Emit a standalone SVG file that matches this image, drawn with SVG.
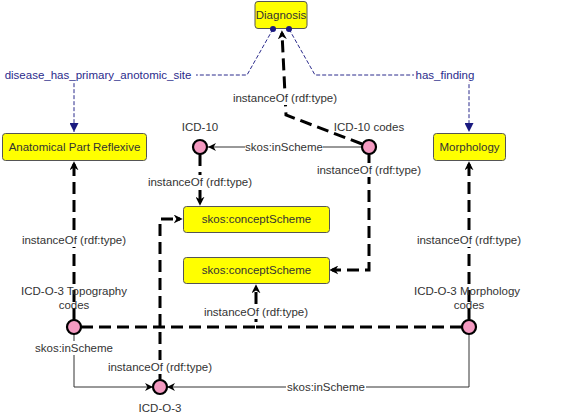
<svg xmlns="http://www.w3.org/2000/svg" width="566" height="414" viewBox="0 0 566 414">
<style>
text{font-family:"Liberation Sans",Arial,sans-serif;font-size:11.5px;fill:#333;text-anchor:middle}
.blue{fill:#2b2b8c}
.box{fill:#ffff00;stroke:#555;stroke-width:1}
.ind{fill:#f49ac1;stroke:#000;stroke-width:2.2}
.thick{fill:none;stroke:#000;stroke-width:3;stroke-dasharray:12 6}
.thin{fill:none;stroke:#333;stroke-width:1}
.bl{fill:none;stroke:#2b2b8c;stroke-width:1;stroke-dasharray:4 2}
.bg{fill:#fff}
.dot{fill:#1a1a80}
</style>
<defs>
<marker id="ak" viewBox="0 0 10 10" refX="7" refY="5" markerWidth="9" markerHeight="9" markerUnits="userSpaceOnUse" orient="auto">
<path d="M0,0 L10,5 L0,10 L3,5 z" fill="#000"/>
</marker>
<marker id="at" viewBox="0 0 10 10" refX="10" refY="5" markerWidth="8" markerHeight="8" markerUnits="userSpaceOnUse" orient="auto">
<path d="M0,0 L10,5 L0,10 L3,5 z" fill="#000"/>
</marker>
<marker id="ab" viewBox="0 0 10 10" refX="10" refY="5" markerWidth="9" markerHeight="9" markerUnits="userSpaceOnUse" orient="auto">
<path d="M0,0 L10,5 L0,10 z" fill="#1a1a80"/>
</marker>
</defs>
<g id="connectors">
<path class="bl" d="M273,29 L247,75 L74,75 L74,132" marker-end="url(#ab)"/>
<path class="bl" d="M289,29 L315,75 L469,75 L469,132" marker-end="url(#ab)"/>
<path class="thick" d="M362,144 L286,115 L282,33" marker-end="url(#ak)"/>
<path class="thin" d="M362,147 L208,147" marker-end="url(#at)"/>
<path class="thick" d="M200,154 L200,203" marker-end="url(#ak)"/>
<path class="thick" d="M369,154 L369,270 L332,270" marker-end="url(#ak)"/>
<path class="thick" d="M74,320 L74,164" marker-end="url(#ak)"/>
<path class="thick" d="M469,320 L469,164" marker-end="url(#ak)"/>
<path class="thick" d="M81,327 L256,327 L256,287" marker-end="url(#ak)"/>
<path class="thick" d="M462,327 L256,327"/>
<path class="thick" d="M160,380 L160,219 L180,219" marker-end="url(#ak)"/>
<path class="thin" d="M74,334 L74,387 L153,387" marker-end="url(#at)"/>
<path class="thin" d="M469,334 L469,387 L167,387" marker-end="url(#at)"/>
</g>
<g id="edge-labels">
<rect class="bg" x="2" y="68" width="194" height="14"/>
<text class="blue" x="98" y="79">disease_has_primary_anotomic_site</text>
<rect class="bg" x="414" y="68" width="63" height="14"/>
<text class="blue" x="445" y="79">has_finding</text>
<rect class="bg" x="231" y="91" width="108" height="14"/>
<text x="285" y="102">instanceOf (rdf:type)</text>
<rect class="bg" x="245" y="140" width="78" height="14"/>
<text x="284" y="151">skos:inScheme</text>
<rect class="bg" x="146" y="175" width="108" height="14"/>
<text x="200" y="186">instanceOf (rdf:type)</text>
<rect class="bg" x="315" y="163" width="108" height="14"/>
<text x="369" y="174">instanceOf (rdf:type)</text>
<rect class="bg" x="20" y="233" width="108" height="14"/>
<text x="74" y="244">instanceOf (rdf:type)</text>
<rect class="bg" x="415" y="233" width="108" height="14"/>
<text x="469" y="244">instanceOf (rdf:type)</text>
<rect class="bg" x="202" y="305" width="108" height="14"/>
<text x="256" y="316">instanceOf (rdf:type)</text>
<rect class="bg" x="106" y="360" width="108" height="14"/>
<text x="160" y="371">instanceOf (rdf:type)</text>
<rect class="bg" x="35" y="341" width="78" height="14"/>
<text x="74" y="352">skos:inScheme</text>
<rect class="bg" x="286" y="380" width="80" height="14"/>
<text x="326" y="391">skos:inScheme</text>
</g>
<g id="n-diagnosis">
<rect class="box" x="255" y="1.5" width="52" height="27" rx="3"/>
<text x="281" y="19">Diagnosis</text>
</g>
<g id="n-anatomical">
<rect class="box" x="2.5" y="133.5" width="144" height="27" rx="3"/>
<text x="74.5" y="151">Anatomical Part Reflexive</text>
</g>
<g id="n-morphology">
<rect class="box" x="433.5" y="133.5" width="72" height="27" rx="3"/>
<text x="469.5" y="151">Morphology</text>
</g>
<g id="n-scheme1">
<rect class="box" x="183.5" y="206.5" width="146" height="26" rx="3"/>
<text x="256.5" y="223">skos:conceptScheme</text>
</g>
<g id="n-scheme2">
<rect class="box" x="183.5" y="257.5" width="146" height="26" rx="3"/>
<text x="256.5" y="274">skos:conceptScheme</text>
</g>
<g id="n-icd10">
<circle class="ind" cx="200" cy="147" r="7"/>
<text x="200" y="131">ICD-10</text>
</g>
<g id="n-icd10codes">
<circle class="ind" cx="369" cy="147" r="7"/>
<text x="369" y="131">ICD-10 codes</text>
</g>
<g id="n-topography">
<circle class="ind" cx="74" cy="327" r="7"/>
<text x="74" y="295">ICD-O-3 Topography</text>
<text x="74" y="309">codes</text>
</g>
<g id="n-morphcodes">
<circle class="ind" cx="469" cy="327" r="7"/>
<text x="467" y="295">ICD-O-3 Morphology</text>
<text x="469" y="309">codes</text>
</g>
<g id="n-icdo3">
<circle class="ind" cx="160" cy="387" r="7"/>
<text x="160" y="412">ICD-O-3</text>
</g>
<g id="connector-ends">
<circle class="dot" cx="273" cy="29" r="3"/>
<circle class="dot" cx="289" cy="29" r="3"/>
</g>
</svg>
